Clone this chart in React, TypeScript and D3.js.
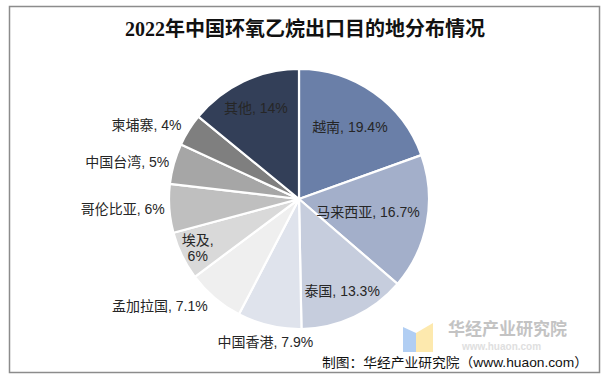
import React from "react";
import * as d3 from "d3";

const categories = ["越南", "马来西亚", "泰国", "中国香港", "孟加拉国", "埃及", "哥伦比亚", "中国台湾", "柬埔寨", "其他"];
const values = [19.4, 16.7, 13.3, 7.9, 7.1, 6, 6, 5, 4, 14];
const valueLabels = ["19.4%", "16.7%", "13.3%", "7.9%", "7.1%", "6%", "6%", "5%", "4%", "14%"];
const title = "2022年中国环氧乙烷出口目的地分布情况";
const source = "制图：华经产业研究院（www.huaon.com）";

const colors = ["#6a7fa8", "#a3afca", "#c6cddd", "#dfe3ec", "#efefef", "#d9d9d9", "#bfbfbf", "#a6a6a6", "#7f7f7f", "#333f58"];
// label layout (radius factor relative to pie radius, anchor)
const labelRadius = [0.68, 0.54, 0.78, 1.13, 1.085, 0.866, 1.035, 1.037, 1.066, 0.774];
const labelAnchor = ["middle", "middle", "middle", "middle", "end", "middle", "end", "end", "end", "middle"];
const wrapLabels = ["埃及"];

const W = 605, H = 379;
const cx = 299, cy = 199, R = 130;

export default function App() {
  const pie = d3.pie<number>().sort(null).value((d) => d);
  const arcs = pie(values);
  const arc = d3.arc<d3.PieArcDatum<number>>().innerRadius(0).outerRadius(R);
  const labelFont = '"Liberation Sans", Arial, "Noto Sans CJK SC", sans-serif';

  return (
    <svg width={W} height={H} style={{ position: "absolute", left: 0, top: 0, background: "#fff", display: "block" }}>
      <rect x={9.5} y={6.5} width={590} height={366} fill="#fff" stroke="#8c8c8c" strokeWidth={1.5} />
      <text x={305} y={29} textAnchor="middle" dominantBaseline="central"
        style={{ fontFamily: '"Liberation Serif", "Noto Sans CJK SC", serif', fontWeight: 700, fontSize: 20, fill: "#111" }}>
        {title}
      </text>
      <g transform={`translate(${cx},${cy})`}>
        {arcs.map((a, i) => (
          <path key={i} d={arc(a) || ""} fill={colors[i]} stroke="#fff" strokeWidth={2.2} strokeLinejoin="round" />
        ))}
        {arcs.map((a, i) => {
          const mid = (a.startAngle + a.endAngle) / 2;
          const rr = R * labelRadius[i];
          const x = Math.sin(mid) * rr;
          const y = -Math.cos(mid) * rr;
          const name = categories[i];
          const lines = wrapLabels.includes(name) ? [`${name},`, valueLabels[i]] : [`${name}, ${valueLabels[i]}`];
          const lh = 15.5;
          return (
            <text key={"l" + i} x={x} y={y - ((lines.length - 1) * lh) / 2} textAnchor={labelAnchor[i]}
              dominantBaseline="central" style={{ fontFamily: labelFont, fontSize: 14, fill: "#262626" }}>
              {lines.map((l, j) => (
                <tspan key={j} x={x} dy={j === 0 ? 0 : lh}>{l}</tspan>
              ))}
            </text>
          );
        })}
      </g>
      {/* watermark */}
      <g opacity={0.9}>
        <polygon points="403,327 416,333 416,352 403,352" fill="#a9c9f2" />
        <polygon points="416,333 433,323 433,352 416,352" fill="#fde7a6" />
        <text x={448} y={327} dominantBaseline="central"
          style={{ fontFamily: '"Noto Sans CJK SC", sans-serif', fontWeight: 700, fontSize: 17, fill: "#bdbdbd" }}>
          华经产业研究院
        </text>
        <text x={462} y={346} dominantBaseline="central"
          style={{ fontFamily: '"Liberation Sans", sans-serif', fontWeight: 700, fontSize: 10, fill: "#dcdcdc" }}>
          www.huaon.com
        </text>
      </g>
      <text x={322} y={362} dominantBaseline="central" textLength={266} lengthAdjust="spacingAndGlyphs"
        style={{ fontFamily: '"Liberation Sans", Arial, "Noto Sans CJK SC", sans-serif', fontSize: 13, fill: "#111" }}>
        {source}
      </text>
    </svg>
  );
}
